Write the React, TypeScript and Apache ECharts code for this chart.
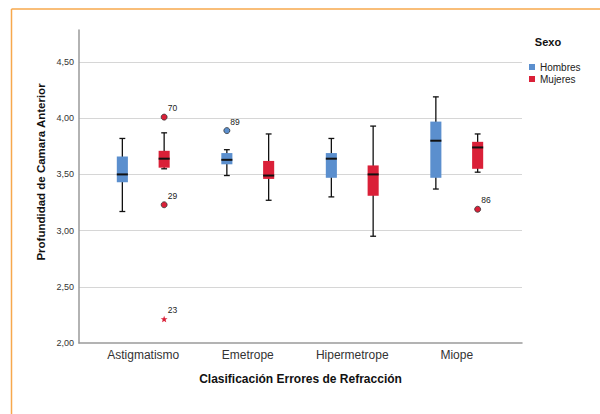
import React, { useEffect, useRef } from 'react';
import * as echarts from 'echarts';

const categories = ['Astigmatismo', 'Emetrope', 'Hipermetrope', 'Miope'];
const sexes = ['Hombres', 'Mujeres'];
const sexColors = ['#5B8FCE', '#DA2038'];

// Box statistics per category: [min, Q1, median, Q3, max]
const hombresBoxes = [
  [3.17, 3.43, 3.5, 3.66, 3.82],
  [3.49, 3.59, 3.63, 3.69, 3.72],
  [3.3, 3.47, 3.64, 3.69, 3.82],
  [3.37, 3.47, 3.8, 3.97, 4.19],
];
const mujeresBoxes = [
  [3.55, 3.56, 3.64, 3.71, 3.87],
  [3.27, 3.46, 3.49, 3.62, 3.86],
  [2.95, 3.31, 3.5, 3.58, 3.93],
  [3.52, 3.55, 3.74, 3.79, 3.86],
];

// Outlying cases
const outlierCategory = [0, 0, 0, 1, 3];
const outlierSex = [1, 1, 1, 0, 1];
const outlierValue = [4.01, 3.23, 2.21, 3.89, 3.19];
const outlierCase = ['70', '29', '23', '89', '86'];
const outlierExtreme = [0, 0, 1, 0, 0];

const yMin = 2;
const yMax = 4.785;
const yStep = 0.5;

// horizontal shift of each sex inside a category band (fraction of band)
const sexShift = [-0.2, 0.2];

const FONT = '"Liberation Sans", Arial, sans-serif';

const makeBoxRenderer = (sex: number) => (params: any, api: any) => {
  const cat = api.value(0);
  const band = api.size([1, 0])[0];
  const x = api.coord([cat, yMin])[0] + sexShift[sex] * band;
  const y = [1, 2, 3, 4, 5].map((d) => api.coord([cat, api.value(d)])[1]);
  const half = band * 0.053;
  const cap = band * 0.028;
  const ink = '#111';
  return {
    type: 'group',
    children: [
      { type: 'line', shape: { x1: x, y1: y[4], x2: x, y2: y[0] }, style: { stroke: ink, lineWidth: 1.3 } },
      { type: 'line', shape: { x1: x - cap, y1: y[4], x2: x + cap, y2: y[4] }, style: { stroke: ink, lineWidth: 1.3 } },
      { type: 'line', shape: { x1: x - cap, y1: y[0], x2: x + cap, y2: y[0] }, style: { stroke: ink, lineWidth: 1.3 } },
      {
        type: 'rect',
        shape: { x: x - half, y: y[3], width: half * 2, height: y[1] - y[3] },
        style: { fill: sexColors[sex] },
      },
      { type: 'line', shape: { x1: x - half, y1: y[2], x2: x + half, y2: y[2] }, style: { stroke: ink, lineWidth: 2 } },
    ],
  };
};

const starPoints = (cx: number, cy: number, ro: number, ri: number) => {
  const pts: number[][] = [];
  for (let i = 0; i < 10; i++) {
    const r = i % 2 === 0 ? ro : ri;
    const a = -Math.PI / 2 + (i * Math.PI) / 5;
    pts.push([cx + r * Math.cos(a), cy + r * Math.sin(a)]);
  }
  return pts;
};

const renderOutlier = (params: any, api: any) => {
  const cat = api.value(0);
  const v = api.value(1);
  const sex = api.value(2);
  const extreme = api.value(3);
  const band = api.size([1, 0])[0];
  const p = api.coord([cat, v]);
  const x = p[0] + sexShift[sex] * band;
  const y = p[1];
  const marker = extreme
    ? { type: 'polygon', shape: { points: starPoints(x, y, 3.6, 1.5) }, style: { fill: sexColors[sex] } }
    : { type: 'circle', shape: { cx: x, cy: y, r: 3 }, style: { fill: sexColors[sex], stroke: '#333', lineWidth: 0.8 } };
  return {
    type: 'group',
    children: [
      marker,
      {
        type: 'text',
        x: x + 3.5,
        y: y - 9,
        style: {
          text: outlierCase[params.dataIndex],
          fill: '#222',
          font: `8.5px ${FONT}`,
          align: 'left',
          verticalAlign: 'middle',
        },
      },
    ],
  };
};

export default function App() {
  const ref = useRef<HTMLDivElement>(null);

  useEffect(() => {
    if (!ref.current) return;
    const chart = echarts.init(ref.current, null, { renderer: 'svg' });

    const boxData = [hombresBoxes, mujeresBoxes].map((boxes) => boxes.map((b, i) => [i, ...b]));
    const outlierData = outlierValue.map((v, i) => [outlierCategory[i], v, outlierSex[i], outlierExtreme[i]]);

    chart.setOption({
      animation: false,
      backgroundColor: '#ffffff',
      textStyle: { fontFamily: FONT },
      grid: [
        { left: 79, right: 78, top: 30, bottom: 71 },
        { left: 91, right: 91, top: 30, bottom: 71 },
      ],
      xAxis: [
        {
          type: 'category',
          gridIndex: 0,
          data: categories,
          axisLine: { show: true, lineStyle: { color: '#9a9a9a', width: 1.5 } },
          axisTick: { show: false },
          axisLabel: { show: false },
          name: 'Clasificación Errores de Refracción',
          nameLocation: 'middle',
          nameGap: 30,
          nameTextStyle: { fontSize: 12, fontWeight: 'bold', color: '#111', fontFamily: FONT },
        },
        {
          type: 'category',
          gridIndex: 1,
          data: categories,
          axisLine: { show: false },
          axisTick: { show: false },
          axisLabel: { fontSize: 12, color: '#333', margin: 6, fontFamily: FONT },
        },
      ],
      yAxis: [
        {
          type: 'value',
          gridIndex: 0,
          min: yMin,
          max: yMax,
          interval: yStep,
          axisLine: { show: true, lineStyle: { color: '#9a9a9a', width: 1.5 } },
          axisTick: { show: false },
          axisLabel: {
            fontSize: 9,
            color: '#333',
            margin: 5,
            showMaxLabel: false,
            fontFamily: FONT,
            formatter: (v: number) => v.toFixed(2).replace('.', ','),
          },
          splitLine: { show: true, showMaxLine: false, showMinLine: false, lineStyle: { color: '#d6d6d6', width: 1 } },
        },
        {
          type: 'value',
          gridIndex: 1,
          min: yMin,
          max: yMax,
          interval: yStep,
          show: false,
          splitLine: { show: false },
        },
      ],
      legend: {
        data: sexes,
        orient: 'vertical',
        left: 524,
        top: 56,
        itemWidth: 6,
        itemHeight: 6,
        itemGap: 0,
        icon: 'rect',
        textStyle: { fontSize: 10, color: '#222', lineHeight: 12, fontFamily: FONT },
      },
      graphic: [
        {
          type: 'line',
          shape: { x1: 11.5, y1: 9, x2: 600, y2: 9 },
          style: { stroke: '#F7A84C', lineWidth: 1.5 },
        },
        {
          type: 'line',
          shape: { x1: 11.5, y1: 9, x2: 11.5, y2: 414 },
          style: { stroke: '#F7A84C', lineWidth: 1.5 },
        },
        {
          type: 'text',
          x: 41,
          y: 172,
          rotation: Math.PI / 2,
          style: {
            text: 'Profundidad de Camara Anterior',
            font: `bold 11.5px ${FONT}`,
            fill: '#111',
            align: 'center',
            verticalAlign: 'middle',
          },
        },
        {
          type: 'text',
          x: 548,
          y: 42,
          style: {
            text: 'Sexo',
            font: `bold 11px ${FONT}`,
            fill: '#111',
            align: 'center',
            verticalAlign: 'middle',
          },
        },
      ],
      series: [
        ...sexes.map((name, s) => ({
          name,
          type: 'custom',
          xAxisIndex: 1,
          yAxisIndex: 1,
          itemStyle: { color: sexColors[s] },
          encode: { x: 0, y: [1, 2, 3, 4, 5] },
          renderItem: makeBoxRenderer(s),
          data: boxData[s],
        })),
        {
          name: 'Casos atípicos',
          type: 'custom',
          xAxisIndex: 1,
          yAxisIndex: 1,
          encode: { x: 0, y: 1 },
          renderItem: renderOutlier,
          data: outlierData,
        },
      ],
    });

    return () => chart.dispose();
  }, []);

  return (
    <div
      ref={ref}
      style={{ position: 'fixed', left: 0, top: 0, width: 600, height: 414, background: '#fff' }}
    />
  );
}
